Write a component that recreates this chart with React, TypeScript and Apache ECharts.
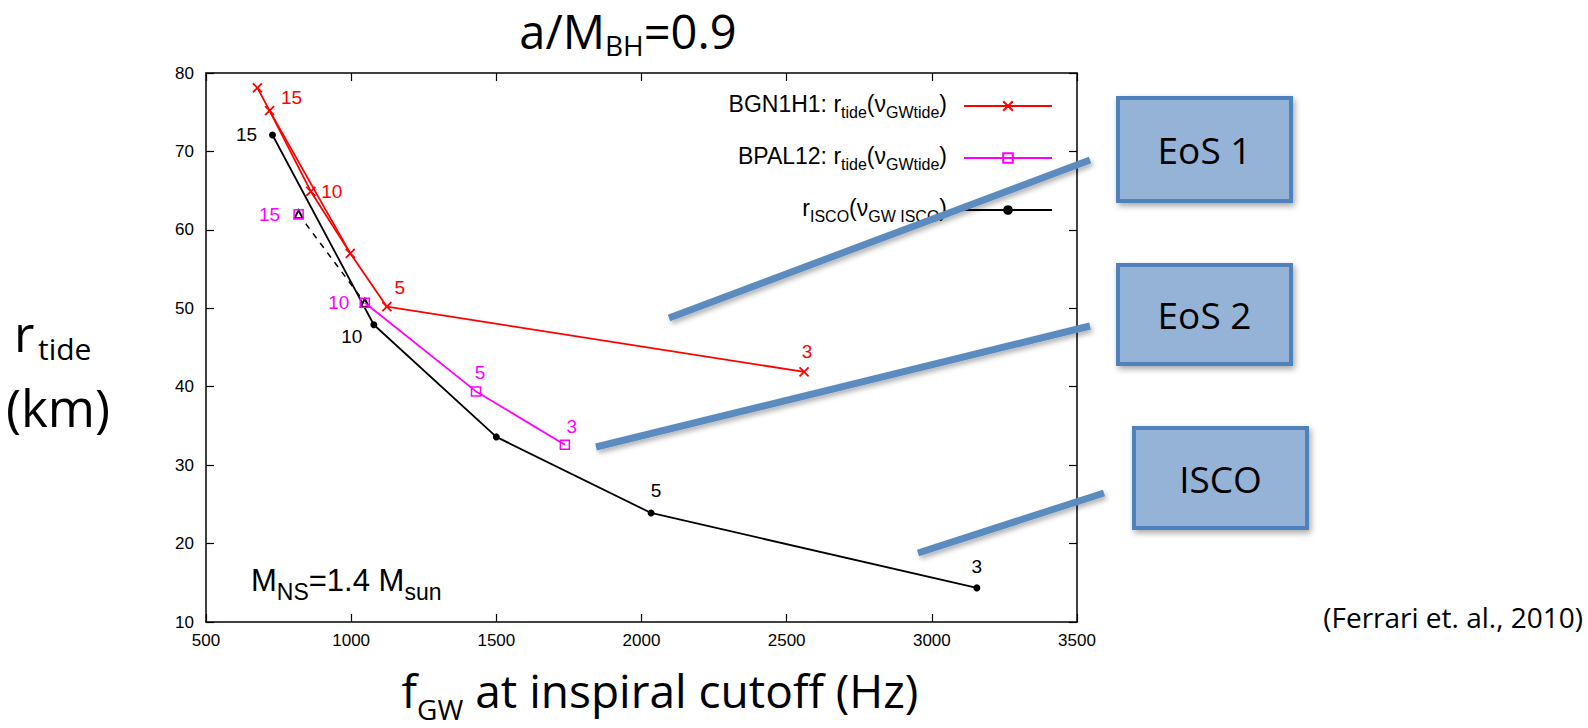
import React, { useEffect, useRef } from 'react';
import * as echarts from 'echarts';

// ---- data ----
const bgnX = [677, 719, 861, 997, 1123, 2560];
const bgnY = [78.1, 75.2, 64.9, 57.0, 50.2, 41.9];
const bgnLabels = ['', '15', '10', '', '5', '3'];
const bgnExtraX = [719, 997];
const bgnExtraY = [75.2, 57.0];

const palX = [1047, 1430, 1736];
const palY = [50.7, 39.4, 32.6];
const palLabels = ['10', '5', '3'];
const pal15X = [819];
const pal15Y = [62.0];
const pal15Labels = ['15'];
const palDashX = [819, 1047];
const palDashY = [62.0, 50.7];

const iscoX = [729, 1078, 1500, 2033, 3155];
const iscoY = [72.1, 47.9, 33.6, 23.9, 14.35];
const iscoLabels = ['15', '10', '', '5', '3'];

// label offsets (style)
const bgnOff = [[0, 0], [22, -13], [21, 0], [0, 0], [13, -19], [3, -20]];
const palOff = [[-26, 0], [4, -19], [7, -18]];
const pal15Off = [[-29, 0]];
const iscoOff = [[-26, 0], [-22, 12], [0, 0], [5, -22], [0, -21]];

const RED = '#ff0000';
const MAG = '#ff00ff';
const BLK = '#000000';
const LBL = 'Liberation Sans, Arial, sans-serif';
const DECO = '"Open Sans", Lato, sans-serif';
const XMARK = 'path://M0,0L10,10M10,0L0,10';

function pts(xs: number[], ys: number[], labels: string[] | null, offs: number[][] | null, color: string) {
  return xs.map((x, i) => {
    const item: any = { value: [x, ys[i]] };
    if (labels && labels[i]) {
      item.label = {
        show: true,
        formatter: labels[i],
        position: 'inside',
        offset: offs ? offs[i] : [0, 0],
        color,
        fontSize: 19,
        fontFamily: LBL,
      };
    }
    return item;
  });
}

export default function App() {
  const ref = useRef<HTMLDivElement>(null);
  useEffect(() => {
    document.body.style.margin = '0';
    const chart = echarts.init(ref.current!, null, { renderer: 'svg' });
    const sub = (fs: number, lh: number) => ({ fontSize: fs, fontFamily: LBL, verticalAlign: 'bottom', lineHeight: lh, color: '#000' });
    const base = (fs: number, lh: number) => ({ fontSize: fs, fontFamily: LBL, verticalAlign: 'top', lineHeight: lh, color: '#000' });
    const legendRich = { a: base(23, 28), b: sub(16, 28) };
    const legendText: Record<string, string> = {
      'BGN1H1': '{a|BGN1H1: r}{b|tide}{a|(ν}{b|GWtide}{a|)}',
      'BPAL12': '{a|BPAL12: r}{b|tide}{a|(ν}{b|GWtide}{a|)}',
      'ISCO': '{a|r}{b|ISCO}{a|(ν}{b|GW ISCO}{a|)}',
    };
    const boxStyle = {
      fill: '#95b3d7',
      stroke: '#4f81bd',
      lineWidth: 4,
      shadowBlur: 6,
      shadowColor: 'rgba(0,0,0,0.35)',
      shadowOffsetX: 2,
      shadowOffsetY: 3,
    };
    const lineStyleDeco = {
      stroke: '#5b8cbf',
      lineWidth: 7,
      shadowBlur: 5,
      shadowColor: 'rgba(0,0,0,0.3)',
      shadowOffsetX: 2,
      shadowOffsetY: 3,
    };
    const box = (x: number, y: number, w: number, h: number, label: string) => ({
      type: 'group',
      children: [
        { type: 'rect', shape: { x, y, width: w, height: h }, style: boxStyle },
        {
          type: 'text',
          x: x + w / 2,
          y: y + h / 2,
          style: { text: label, fontSize: 37, fontFamily: DECO, fill: '#000', align: 'center', verticalAlign: 'middle' },
        },
      ],
    });
    const tickFmt = (v: number) => String(v);
    const option: any = {
      animation: false,
      backgroundColor: '#fff',
      grid: { left: 206, right: 511, top: 73, bottom: 106, containLabel: false },
      xAxis: [
        {
          type: 'value', min: 500, max: 3500, interval: 500,
          axisLine: { lineStyle: { color: BLK, width: 1.5 } },
          axisTick: { inside: true, length: 8, lineStyle: { color: BLK, width: 1.2 } },
          axisLabel: { color: BLK, fontSize: 17, fontFamily: LBL, margin: 10, formatter: tickFmt },
          splitLine: { show: false },
        },
        {
          type: 'value', min: 500, max: 3500, interval: 500, position: 'top',
          axisLine: { lineStyle: { color: BLK, width: 1.5 } },
          axisTick: { inside: true, length: 8, lineStyle: { color: BLK, width: 1.2 } },
          axisLabel: { show: false }, splitLine: { show: false },
        },
      ],
      yAxis: [
        {
          type: 'value', min: 10, max: 80, interval: 10,
          axisLine: { show: true, lineStyle: { color: BLK, width: 1.5 } },
          axisTick: { show: true, inside: true, length: 8, lineStyle: { color: BLK, width: 1.2 } },
          axisLabel: { color: BLK, fontSize: 17, fontFamily: LBL, margin: 12, formatter: tickFmt },
          splitLine: { show: false },
        },
        {
          type: 'value', min: 10, max: 80, interval: 10, position: 'right',
          axisLine: { show: true, lineStyle: { color: BLK, width: 1.5 } },
          axisTick: { show: true, inside: true, length: 8, lineStyle: { color: BLK, width: 1.2 } },
          axisLabel: { show: false }, splitLine: { show: false },
        },
      ],
      legend: {
        data: ['BGN1H1', 'BPAL12', 'ISCO'],
        orient: 'vertical',
        align: 'right',
        right: 535,
        top: 92,
        padding: 0,
        itemWidth: 88,
        itemHeight: 12,
        itemGap: 24,
        formatter: (name: string) => legendText[name],
        textStyle: { rich: legendRich, padding: [0, 12, 0, 0] },
        selectedMode: false,
      },
      series: [
        {
          name: 'ISCO', type: 'line', data: pts(iscoX, iscoY, iscoLabels, iscoOff, BLK),
          symbol: 'circle', symbolSize: 7,
          itemStyle: { color: BLK }, lineStyle: { color: BLK, width: 1.8 }, z: 2,
        },
        {
          name: 'isco-dash', type: 'line', data: pts(palDashX, palDashY, null, null, BLK),
          symbol: 'emptyTriangle', symbolSize: 8,
          itemStyle: { color: BLK, borderColor: BLK, borderWidth: 1.2 },
          lineStyle: { color: BLK, width: 1.5, type: [6, 6] }, z: 3,
        },
        {
          name: 'BPAL12', type: 'line', data: pts(palX, palY, palLabels, palOff, MAG),
          symbol: 'rect', symbolSize: 9,
          itemStyle: { color: 'rgba(255,255,255,0)', borderColor: MAG, borderWidth: 1.5 },
          lineStyle: { color: MAG, width: 1.8 }, z: 4,
        },
        {
          name: 'pal15', type: 'line', data: pts(pal15X, pal15Y, pal15Labels, pal15Off, MAG),
          symbol: 'rect', symbolSize: 9,
          itemStyle: { color: 'rgba(255,255,255,0)', borderColor: MAG, borderWidth: 1.5 },
          lineStyle: { width: 0 }, z: 4,
        },
        {
          name: 'bgn-extra', type: 'line', data: pts(bgnExtraX, bgnExtraY, null, null, RED),
          symbol: 'none', lineStyle: { color: RED, width: 1.8 }, z: 5,
        },
        {
          name: 'BGN1H1', type: 'line', data: pts(bgnX, bgnY, bgnLabels, bgnOff, RED),
          symbol: XMARK, symbolSize: 9,
          itemStyle: { color: RED, borderColor: RED, borderWidth: 1.8 },
          lineStyle: { color: RED, width: 1.8 }, z: 6,
        },
      ],
      graphic: [
        {
          type: 'text', x: 628, y: 33,
          style: {
            text: '{a|a/M}{b|BH}{a|=0.9}',
            rich: {
              a: { fontSize: 47, fontFamily: DECO, verticalAlign: 'top', lineHeight: 52, fill: '#000' },
              b: { fontSize: 28, fontFamily: DECO, verticalAlign: 'bottom', lineHeight: 52, fill: '#000' },
            },
            align: 'center', verticalAlign: 'middle',
          },
        },
        {
          type: 'text', x: 14, y: 333,
          style: { text: 'r', fontSize: 50, fontFamily: DECO, fill: '#000', align: 'left', verticalAlign: 'middle' },
        },
        {
          type: 'text', x: 38, y: 348,
          style: { text: 'tide', fontSize: 30, fontFamily: DECO, fill: '#000', align: 'left', verticalAlign: 'middle' },
        },
        {
          type: 'text', x: 6, y: 407,
          style: { text: '(km)', fontSize: 51, fontFamily: DECO, fill: '#000', align: 'left', verticalAlign: 'middle' },
        },
        {
          type: 'text', x: 660, y: 695,
          style: {
            text: '{a|f}{b|GW}{a| at inspiral cutoff (Hz)}',
            rich: {
              a: { fontSize: 46, fontFamily: DECO, verticalAlign: 'top', lineHeight: 56, fill: '#000' },
              b: { fontSize: 28, fontFamily: DECO, verticalAlign: 'bottom', lineHeight: 56, fill: '#000' },
            },
            align: 'center', verticalAlign: 'middle',
          },
        },
        {
          type: 'text', x: 251, y: 584,
          style: {
            text: '{a|M}{b|NS}{a|=1.4 M}{b|sun}',
            rich: {
              a: { fontSize: 31, fontFamily: LBL, verticalAlign: 'top', lineHeight: 38, fill: '#000' },
              b: { fontSize: 23, fontFamily: LBL, verticalAlign: 'bottom', lineHeight: 38, fill: '#000' },
            },
            align: 'left', verticalAlign: 'middle',
          },
        },
        { type: 'line', shape: { x1: 669, y1: 318, x2: 1090, y2: 160 }, style: lineStyleDeco, z: 50 },
        { type: 'line', shape: { x1: 596, y1: 447, x2: 1090, y2: 326 }, style: lineStyleDeco, z: 50 },
        { type: 'line', shape: { x1: 918, y1: 553, x2: 1104, y2: 493 }, style: lineStyleDeco, z: 50 },
        box(1118, 98, 173, 103, 'EoS 1'),
        box(1118, 265, 173, 99, 'EoS 2'),
        box(1134, 428, 173, 100, 'ISCO'),
        {
          type: 'text', x: 1583, y: 617,
          style: { text: '(Ferrari et. al., 2010)', fontSize: 28, fontFamily: DECO, fill: '#000', align: 'right', verticalAlign: 'middle' },
        },
      ],
    };
    chart.setOption(option);
    return () => chart.dispose();
  }, []);
  return <div ref={ref} style={{ width: 1588, height: 728 }} />;
}
